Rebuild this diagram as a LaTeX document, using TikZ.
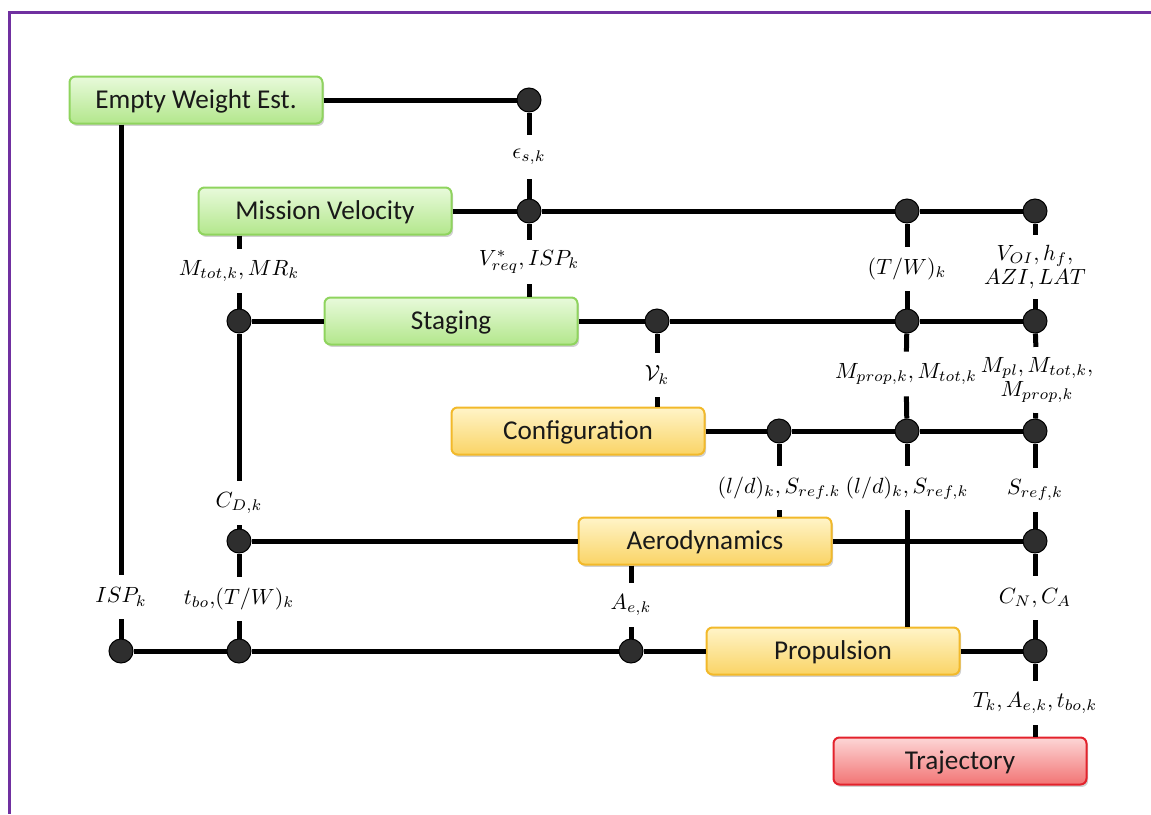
\RequirePackage{fix-cm}
\documentclass[tikz,border=0pt]{standalone}
\usepackage{fontspec}
\newfontfamily\boxfont{Carlito}
\usetikzlibrary{shadows}
\definecolor{frameviolet}{HTML}{7030A0}
\definecolor{gtop}{HTML}{E8FADB}
\definecolor{gbot}{HTML}{B3E78C}
\definecolor{gline}{HTML}{8FD45E}
\definecolor{ytop}{HTML}{FFF4C8}
\definecolor{ybot}{HTML}{FAD466}
\definecolor{yline}{HTML}{F2B92A}
\definecolor{rtop}{HTML}{FDD6D6}
\definecolor{rbot}{HTML}{F27474}
\definecolor{rline}{HTML}{E3222C}
\definecolor{dotfill}{HTML}{2E2E2E}
\begin{document}
\begin{tikzpicture}[x=0.5pt,y=-0.5pt,
  box/.style={rounded corners=3pt, minimum width=126.5pt, minimum height=23.5pt,
    line width=1pt, inner sep=0pt, text height=0.82em, text depth=0pt,
    font=\boxfont\fontsize{13.6}{15}\selectfont, text=black!90,
    drop shadow={shadow xshift=0.8pt, shadow yshift=-1.2pt, opacity=0.3, fill=black!60}},
  gbox/.style={box, draw=gline, top color=gtop, bottom color=gbot},
  ybox/.style={box, draw=yline, top color=ytop, bottom color=ybot},
  rbox/.style={box, draw=rline, top color=rtop, bottom color=rbot},
  dot/.style={circle, fill=dotfill, draw=black, line width=0.5pt, minimum size=12pt, inner sep=0pt},
  lbl/.style={inner xsep=1pt, inner ysep=5pt, minimum height=22pt, font=\fontsize{11}{13}\selectfont, align=center},
  conn/.style={line width=2.5pt}
]
\useasboundingbox (0,0) rectangle (1151,814);
\draw[frameviolet, line width=1.5pt] (1151,12) -- (9,12) -- (9,814);

% boxes
\node[gbox] (ew) at (196,100) {Empty Weight Est.};
\node[gbox] (mv) at (325,211) {Mission Velocity};
\node[gbox] (st) at (451,321) {Staging};
\node[ybox] (cf) at (578,431) {Configuration};
\node[ybox] (ae) at (705,541) {Aerodynamics};
\node[ybox] (pr) at (833,651) {Propulsion};
\node[rbox] (tr) at (960,761) {Trajectory};

% junction dots
\node[dot] (d1) at (529,100) {};
\node[dot] (d2) at (529,211) {};
\node[dot] (d3) at (907,211) {};
\node[dot] (d4) at (1035,211) {};
\node[dot] (d5) at (239,321) {};
\node[dot] (d6) at (657,321) {};
\node[dot] (d7) at (907,321) {};
\node[dot] (d8) at (1035,321) {};
\node[dot] (d9) at (779,431) {};
\node[dot] (d10) at (907,431) {};
\node[dot] (d11) at (1035,431) {};
\node[dot] (d12) at (239,541) {};
\node[dot] (d13) at (1035,541) {};
\node[dot] (d14) at (121,651) {};
\node[dot] (d15) at (239,651) {};
\node[dot] (d16) at (631,651) {};
\node[dot] (d17) at (1035,651) {};

% labels
\node[lbl] (leps) at (529,157) {$\epsilon_{s,k}$};
\node[lbl] (lvreq) at (529,262) {$V_{req}^{*}{,}\,ISP_k$};
\node[lbl] (lmtot) at (239,271) {$M_{tot,k}{,}\,MR_k$};
\node[lbl] (ltw) at (907,269) {$(T/W)_k$};
\node[lbl] (lvoi) at (1035,267) {$V_{OI}{,}\,h_f{,}$\\[-1pt]$AZI{,}\,LAT$};
\node[lbl] (lvk) at (657,375) {$\mathcal{V}_k$};
\node[lbl] (lmprop) at (906,374) {$M_{prop,k}{,}\,M_{tot,k}$};
\node[lbl] (lmpl) at (1037,380) {$M_{pl}{,}\,M_{tot,k}{,}$\\[-1pt]$M_{prop,k}$};
\node[lbl] (lld1) at (779,488) {$(l/d)_k{,}\,S_{ref.k}$};
\node[lbl] (lld2) at (907,488) {$(l/d)_k{,}\,S_{ref,k}$};
\node[lbl] (lsref) at (1035,490) {$S_{ref,k}$};
\node[lbl] (lcd) at (239,503) {$C_{D,k}$};
\node[lbl] (lisp) at (121,597) {$ISP_k$};
\node[lbl] (ltbo) at (239,599) {$t_{bo}{,}(T/W)_k$};
\node[lbl] (lae) at (631,605) {$A_{e,k}$};
\node[lbl] (lcn) at (1035,598) {$C_N{,}\,C_A$};
\node[lbl] (ltk) at (1035,703) {$T_k{,}\,A_{e,k}{,}\,t_{bo,k}$};

% connectors
\draw[conn] (ew) -- (d1);
\draw[conn] (d1) -- (leps) -- (d2);
\draw[conn] (d2) -- (lvreq) -- (st.north -| d2);
\draw[conn] (mv) -- (d2) -- (d3) -- (d4);
\draw[conn] (mv.south -| d5) -- (lmtot) -- (d5);
\draw[conn] (d5) -- (st);
\draw[conn] (st) -- (d6) -- (d7) -- (d8);
\draw[conn] (d3) -- (ltw) -- (d7);
\draw[conn] (d4) -- (lvoi) -- (d8);
\draw[conn] (d6) -- (lvk) -- (cf.north -| d6);
\draw[conn] (d7) -- (lmprop) -- (d10);
\draw[conn] (d8) -- (lmpl) -- (d11);
\draw[conn] (cf) -- (d9) -- (d10) -- (d11);
\draw[conn] (d9) -- (lld1) -- (ae.north -| d9);
\draw[conn] (d10) -- (lld2) -- (pr.north -| d10);
\draw[conn] (d11) -- (lsref) -- (d13);
\draw[conn] (d5) -- (lcd) -- (d12);
\draw[conn] (d12) -- (ae);
\draw[conn] (ae) -- (d13);
\draw[conn] (d13) -- (lcn) -- (d17);
\draw[conn] (ew.south -| d14) -- (lisp) -- (d14);
\draw[conn] (d12) -- (ltbo) -- (d15);
\draw[conn] (ae.south -| d16) -- (lae) -- (d16);
\draw[conn] (d14) -- (d15) -- (d16) -- (pr);
\draw[conn] (pr) -- (d17);
\draw[conn] (d17) -- (ltk) -- (tr.north -| d17);
\end{tikzpicture}
\end{document}
